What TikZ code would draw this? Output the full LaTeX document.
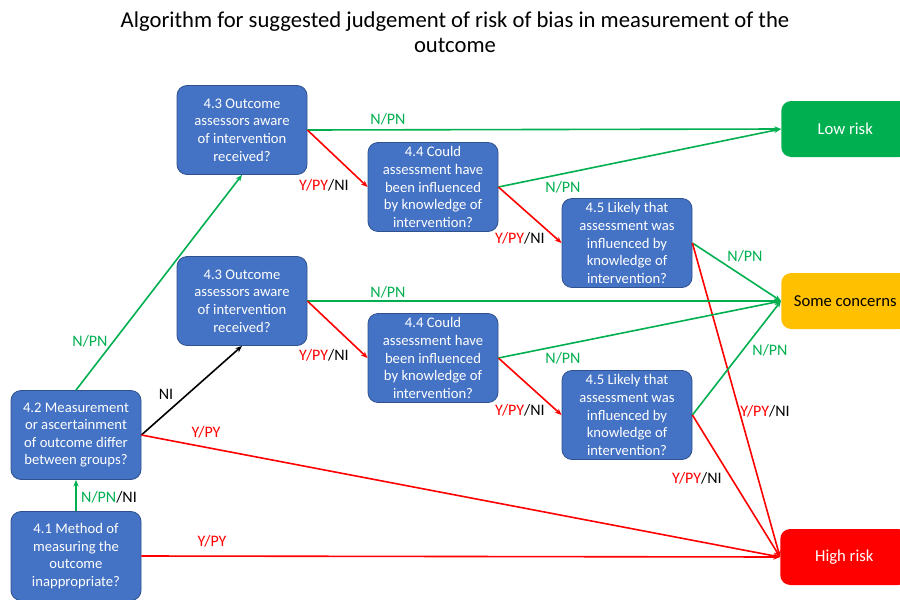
\documentclass[tikz,border=0pt]{standalone}
\usepackage{fontspec}
\setmainfont{Carlito}
\usetikzlibrary{arrows.meta}
\definecolor{qblue}{HTML}{4472C4}
\definecolor{qblueb}{HTML}{2F528F}
\definecolor{qgreen}{HTML}{00B050}
\definecolor{qred}{HTML}{FF0000}
\definecolor{qorange}{HTML}{FFC000}
\tikzset{
  qbox/.style={draw=qblueb, line width=0.6pt, fill=qblue, rounded corners=7.5pt, text=white,
    minimum width=97.5pt, minimum height=66.75pt, align=center, inner sep=1pt,
    font=\fontsize{11pt}{13.2pt}\selectfont},
  outbox/.style={rounded corners=7.5pt, minimum width=96pt, minimum height=42pt,
    font=\fontsize{12.5pt}{14pt}\selectfont, inner sep=1pt, anchor=west},
  gline/.style={draw=qgreen, line width=1.2pt, -{Stealth[length=5pt,width=4pt]}},
  rline/.style={draw=qred, line width=1.2pt, -{Stealth[length=5pt,width=4pt]}},
  kline/.style={draw=black, line width=1.2pt, -{Stealth[length=5pt,width=4pt]}},
  lab/.style={font=\fontsize{12pt}{13pt}\selectfont, inner sep=0pt},
}
\begin{document}
\begin{tikzpicture}[x=0.75pt,y=-0.75pt]
\useasboundingbox (0,0) rectangle (900,600);
\clip (0,0) rectangle (900,600);
\fill[white] (0,0) rectangle (900,600);
% title
\node[font=\fontsize{17pt}{19pt}\selectfont, align=center] (title) at (455,32)
  {Algorithm for suggested judgement of risk of bias in measurement of the\\outcome};
% question boxes
\node[qbox] (q43t) at (242,130) {4.3 Outcome\\assessors aware\\of intervention\\received?};
\node[qbox] (q44t) at (433,187) {4.4 Could\\assessment have\\been influenced\\by knowledge of\\intervention?};
\node[qbox] (q45t) at (627,243) {4.5 Likely that\\assessment was\\influenced by\\knowledge of\\intervention?};
\node[qbox] (q43m) at (242,301) {4.3 Outcome\\assessors aware\\of intervention\\received?};
\node[qbox] (q44m) at (433,358) {4.4 Could\\assessment have\\been influenced\\by knowledge of\\intervention?};
\node[qbox] (q45m) at (627,415) {4.5 Likely that\\assessment was\\influenced by\\knowledge of\\intervention?};
\node[qbox] (q42) at (76,435) {4.2 Measurement\\or ascertainment\\of outcome differ\\between groups?};
\node[qbox] (q41) at (76,556) {4.1 Method of\\measuring the\\outcome\\inappropriate?};
% outcome boxes
\node[outbox, fill=qgreen, text=white] (low) at (781,129) {Low risk};
\node[outbox, fill=qorange, text=black] (some) at (781,301) {Some concerns};
\node[outbox, fill=qred, text=white] (high) at (780,557) {High risk};
% connectors
\draw[gline] (q41.north) -- (q42.south);
\draw[gline] (q42.north) -- (q43t.south);
\draw[kline] (q42.east) -- (q43m.south);
\draw[rline] (q42.east) -- (high.west);
\draw[rline] (q41.east) -- (high.west);
\draw[gline] (q43t.east) -- (low.west);
\draw[rline] (q43t.east) -- (q44t.west);
\draw[gline] (q44t.east) -- (low.west);
\draw[rline] (q44t.east) -- (q45t.west);
\draw[gline] (q45t.east) -- (some.west);
\draw[rline] (q45t.east) -- (high.west);
\draw[gline] (q43m.east) -- (some.west);
\draw[rline] (q43m.east) -- (q44m.west);
\draw[gline] (q44m.east) -- (some.west);
\draw[rline] (q44m.east) -- (q45m.west);
\draw[gline] (q45m.east) -- (some.west);
\draw[rline] (q45m.east) -- (high.west);
% labels
\node[lab] (l1) at (109,497) {\textcolor{qgreen}{N/PN}/NI};
\node[lab, text=qgreen] (l2) at (90,341) {N/PN};
\node[lab] (l3) at (166,394) {NI};
\node[lab, text=qred] (l4) at (206,432) {Y/PY};
\node[lab, text=qred] (l5) at (212,541) {Y/PY};
\node[lab, text=qgreen] (l6) at (388,119) {N/PN};
\node[lab] (l7) at (324,185) {\textcolor{qred}{Y/PY}/NI};
\node[lab, text=qgreen] (l8) at (563,187) {N/PN};
\node[lab] (l9) at (520,238) {\textcolor{qred}{Y/PY}/NI};
\node[lab, text=qgreen] (l10) at (745,256) {N/PN};
\node[lab] (l11) at (765,411) {\textcolor{qred}{Y/PY}/NI};
\node[lab, text=qgreen] (l12) at (388,292) {N/PN};
\node[lab] (l13) at (324,355) {\textcolor{qred}{Y/PY}/NI};
\node[lab, text=qgreen] (l14) at (563,358) {N/PN};
\node[lab] (l15) at (520,410) {\textcolor{qred}{Y/PY}/NI};
\node[lab, text=qgreen] (l16) at (770,350) {N/PN};
\node[lab] (l17) at (697,478) {\textcolor{qred}{Y/PY}/NI};
\end{tikzpicture}
\end{document}
